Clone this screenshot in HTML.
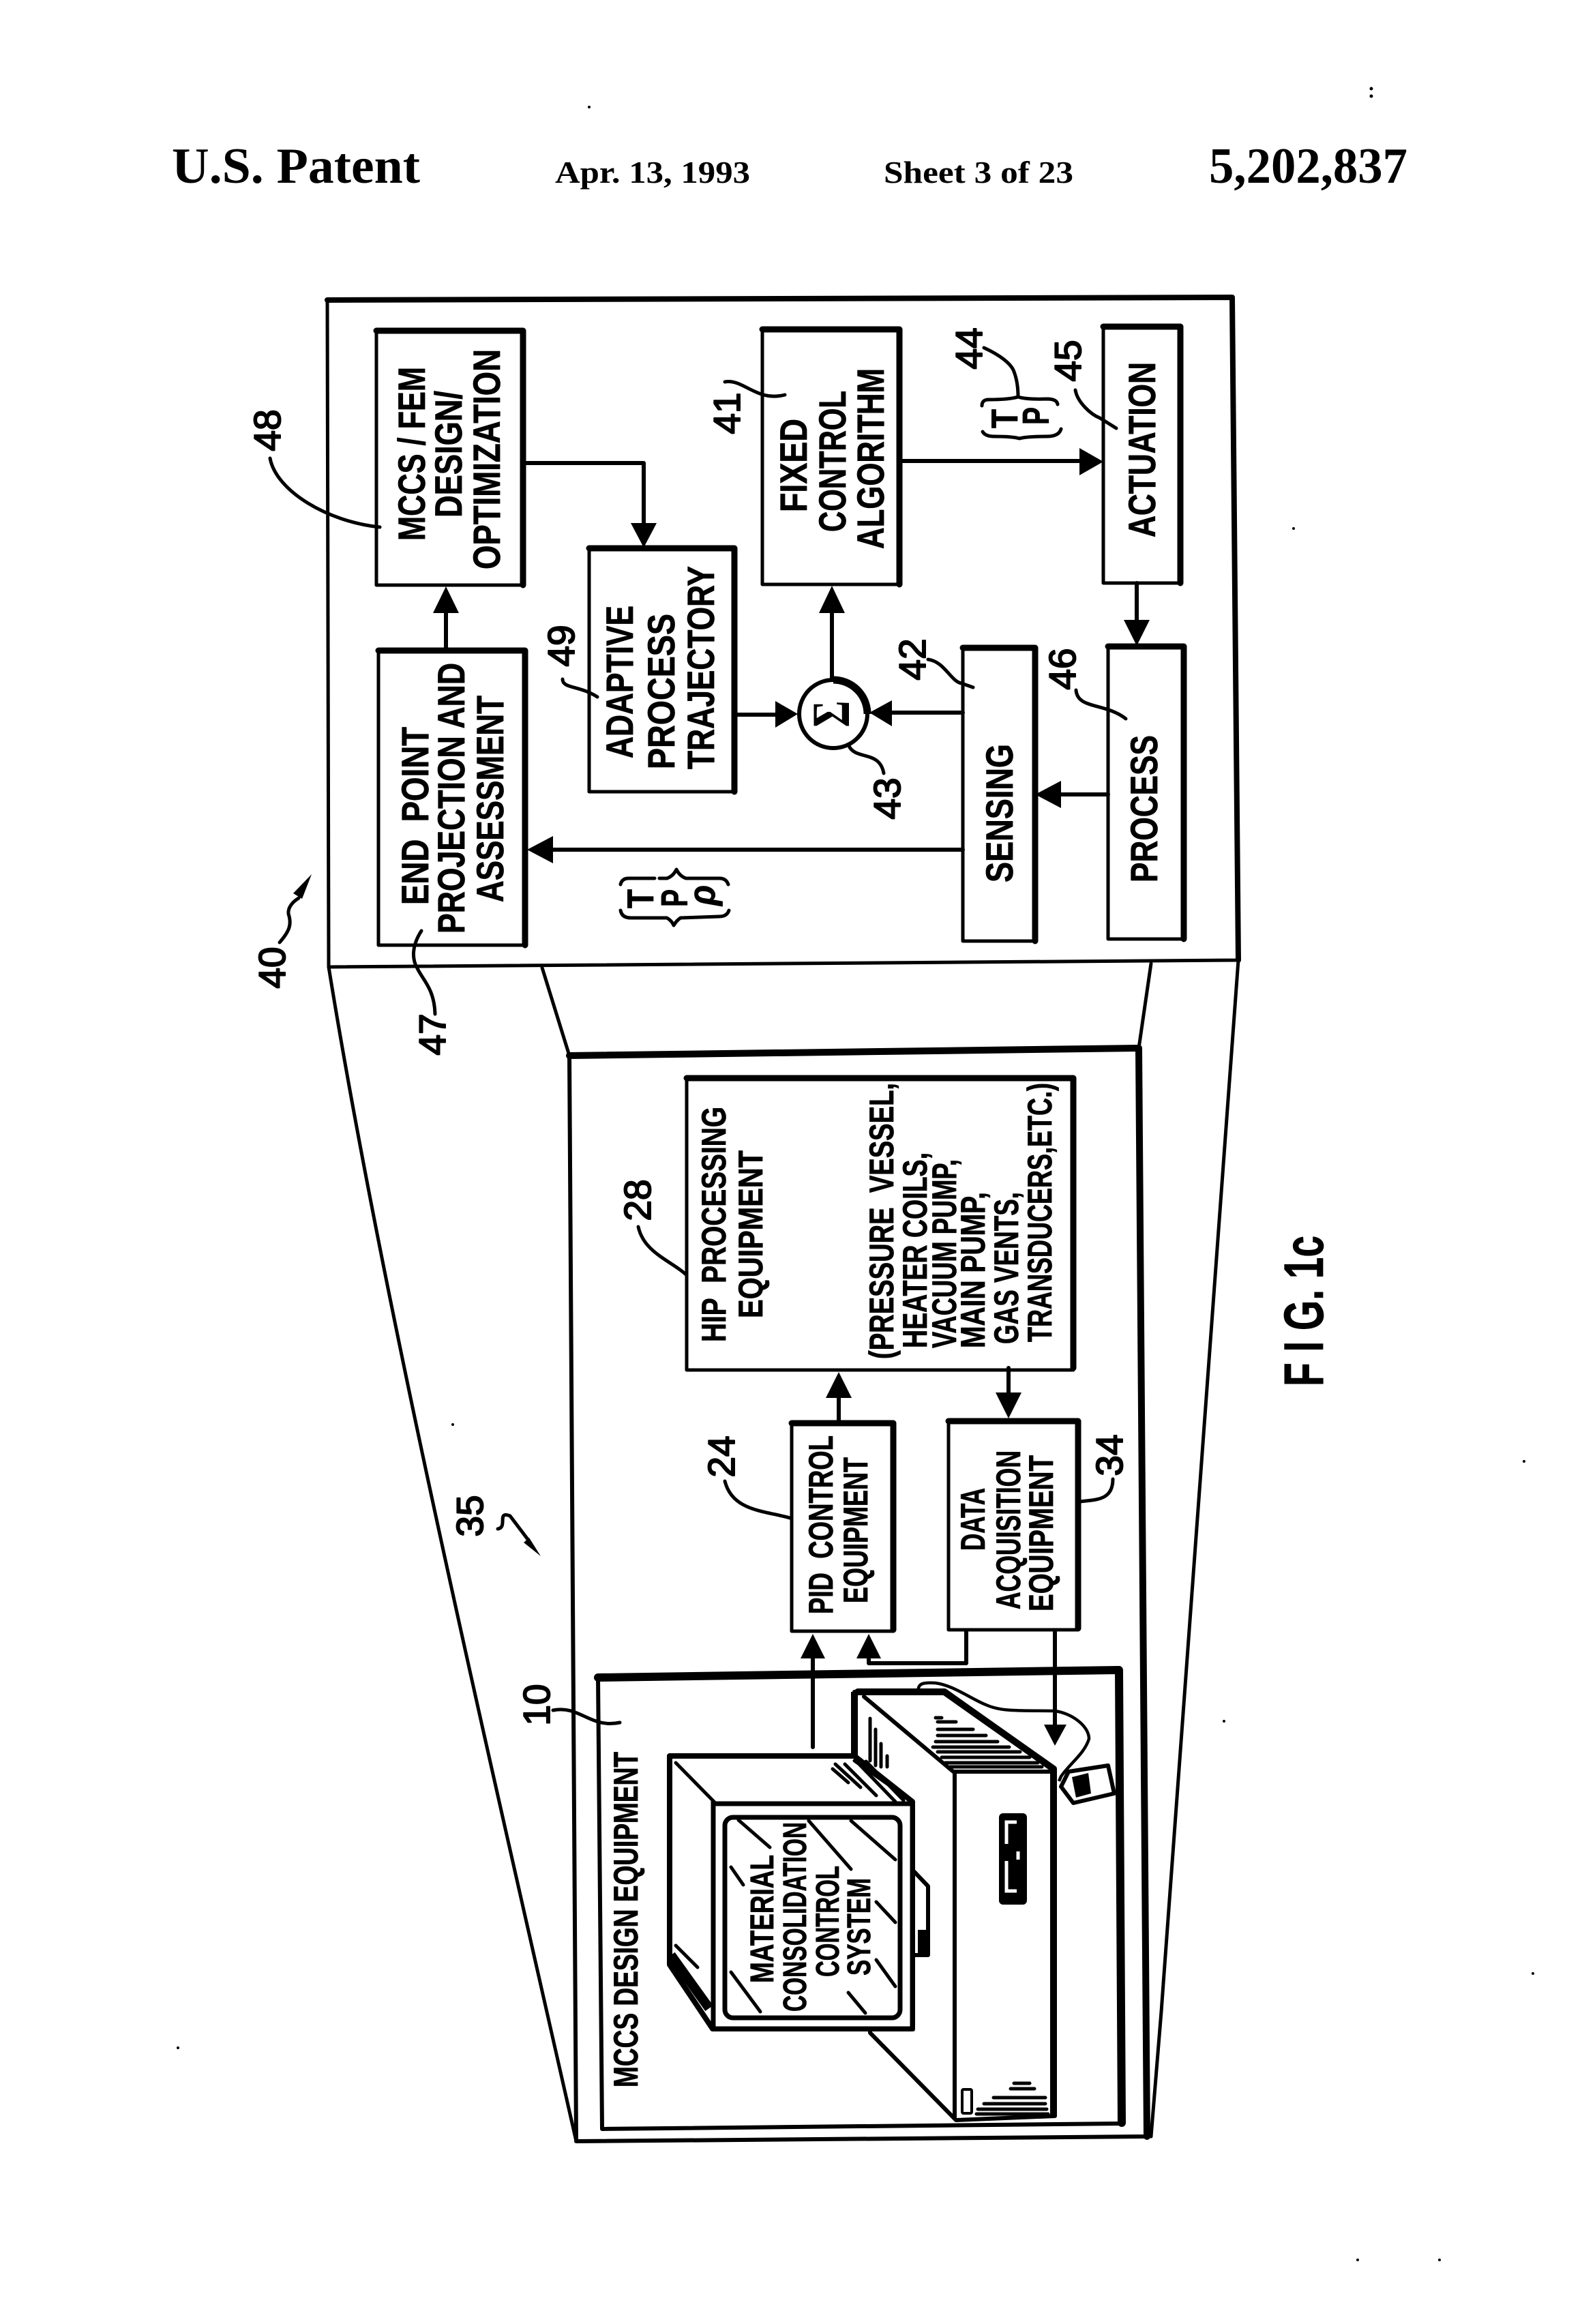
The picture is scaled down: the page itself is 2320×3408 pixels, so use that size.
<!DOCTYPE html>
<html><head><meta charset="utf-8"><style>
html,body{margin:0;padding:0;background:#fff}
svg{display:block}
.s{font-family:"Liberation Sans",sans-serif;font-weight:700;fill:#000;stroke:#000;stroke-width:.8;stroke-linejoin:round}
.h{font-family:"Liberation Serif",serif;font-weight:700;fill:#000}
.n{font-family:"Liberation Sans",sans-serif;font-weight:400;fill:#000;stroke:#000;stroke-width:2;stroke-linejoin:round}
.l{fill:none;stroke:#000;stroke-width:5;stroke-linejoin:round;stroke-linecap:round}
.b{fill:#fff;stroke:#000;stroke-width:5;stroke-linejoin:round}
.k{fill:none;stroke:#000;stroke-width:9;stroke-linejoin:round;stroke-linecap:round}
.t{stroke:#000;stroke-width:3;fill:none;stroke-linecap:round}
</style></head><body>
<svg xmlns="http://www.w3.org/2000/svg" width="2320" height="3408" viewBox="0 0 2320 3408">
<rect width="2320" height="3408" fill="#fff"/>
<text class="h" x="252" y="268" font-size="74" textLength="364" lengthAdjust="spacingAndGlyphs">U.S. Patent</text>
<text class="h" x="814" y="268" font-size="46" textLength="286" lengthAdjust="spacingAndGlyphs">Apr. 13, 1993</text>
<text class="h" x="1296" y="268" font-size="46" textLength="278" lengthAdjust="spacingAndGlyphs">Sheet 3 of 23</text>
<text class="h" x="1773" y="268" font-size="74" textLength="291" lengthAdjust="spacingAndGlyphs">5,202,837</text>

<!-- frames -->
<path class="l" style="stroke-width:5" d="M480 440 L1807 436 L1816 1408 L482 1418 Z"/>
<path class="k" style="stroke-width:8" d="M480 440 L1807 436 L1816 1408"/>
<path class="l" d="M482 1418 C560 1900 700 2500 845 3140 L1688 3133 L1703 2950 L1816 1408"/>
<path class="l" d="M795 1419 L835 1548"/>
<path class="l" d="M1688 1413 L1670 1537"/>
<path class="l" style="stroke-width:6" d="M835 1548 L1670 1537 L1682 3133 L845 3140 Z"/>
<path class="k" style="stroke-width:10" d="M835 1548 L1670 1537 L1682 3133"/>
<path class="l" style="stroke-width:6" d="M877 2460 L1641 2449 L1646 3114 L883 3122 Z"/>
<path class="k" style="stroke-width:12" d="M877 2460 L1641 2449 L1645 3113"/>

<!-- top boxes -->
<rect class="b" x="552" y="484" width="216" height="374"/>
<path class="k" d="M552 485 H767 V858"/>
<rect class="b" x="555" y="953" width="216" height="433"/>
<path class="k" d="M555 954 H770 V1386"/>
<rect class="b" x="864" y="803" width="213" height="358"/>
<path class="k" d="M864 804 H1077 V1161"/>
<rect class="b" x="1118" y="482" width="201" height="375"/>
<path class="k" d="M1118 483 H1319 V857"/>
<rect class="b" x="1618" y="478" width="113" height="377"/>
<path class="k" d="M1618 479 H1731 V855"/>
<rect class="b" x="1625" y="947" width="111" height="430"/>
<path class="k" d="M1625 948 H1736 V1377"/>
<rect class="b" x="1412" y="949" width="106" height="431"/>
<path class="k" d="M1412 950 H1518 V1380"/>
<circle cx="1222" cy="1047" r="50" fill="#fff" stroke="#000" stroke-width="6"/>
<path d="M1222 997 A50 50 0 0 1 1272 1047" fill="none" stroke="#000" stroke-width="11"/>
<text class="h" transform="translate(1245,1047) rotate(-90)" font-size="78" text-anchor="middle" textLength="39" lengthAdjust="spacingAndGlyphs">Σ</text>

<!-- arrows top -->
<path class="l" style="stroke-width:6" d="M654 952 V890 M767 679 H944 V770 M1077 1048 H1140 M1412 1045 H1305 M1220 996 V890 M1319 676 H1585 M1667 855 V915 M1625 1165 H1550 M1412 1246 H805"/>
<g fill="#000">
<path d="M654 860 L635 899 H673 Z"/>
<path d="M944 803 L925 767 H963 Z"/>
<path d="M1170 1047 L1137 1028 V1067 Z"/>
<path d="M1275 1045 L1308 1027 V1065 Z"/>
<path d="M1220 859 L1201 899 H1239 Z"/>
<path d="M1618 677 L1583 657 V697 Z"/>
<path d="M1667 947 L1648 909 H1686 Z"/>
<path d="M1518 1165 L1556 1145 V1185 Z"/>
<path d="M773 1246 L811 1226 V1266 Z"/>
</g>

<g class="s" font-size="56">
<text transform="translate(623,793) rotate(-90)" textLength="255" lengthAdjust="spacingAndGlyphs">MCCS / FEM</text>
<text transform="translate(677,759) rotate(-90)" textLength="186" lengthAdjust="spacingAndGlyphs">DESIGN/</text>
<text transform="translate(733,835) rotate(-90)" textLength="323" lengthAdjust="spacingAndGlyphs">OPTIMIZATION</text>
<text transform="translate(628,1327) rotate(-90)" textLength="261" lengthAdjust="spacingAndGlyphs">END&#160;&#160;POINT</text>
<text transform="translate(681,1369) rotate(-90)" textLength="397" lengthAdjust="spacingAndGlyphs">PROJECTION AND</text>
<text transform="translate(738,1323) rotate(-90)" textLength="303" lengthAdjust="spacingAndGlyphs">ASSESSMENT</text>
<text transform="translate(928,1112) rotate(-90)" textLength="224" lengthAdjust="spacingAndGlyphs">ADAPTIVE</text>
<text transform="translate(989,1128) rotate(-90)" textLength="228" lengthAdjust="spacingAndGlyphs">PROCESS</text>
<text transform="translate(1047,1128) rotate(-90)" textLength="298" lengthAdjust="spacingAndGlyphs">TRAJECTORY</text>
<text transform="translate(1183,751) rotate(-90)" textLength="137" lengthAdjust="spacingAndGlyphs">FIXED</text>
<text transform="translate(1240,780) rotate(-90)" textLength="207" lengthAdjust="spacingAndGlyphs">CONTROL</text>
<text transform="translate(1296,805) rotate(-90)" textLength="265" lengthAdjust="spacingAndGlyphs">ALGORITHM</text>
<text transform="translate(1694,788) rotate(-90)" textLength="257" lengthAdjust="spacingAndGlyphs">ACTUATION</text>
<text transform="translate(1485,1294) rotate(-90)" textLength="203" lengthAdjust="spacingAndGlyphs">SENSING</text>
<text transform="translate(1697,1294) rotate(-90)" textLength="216" lengthAdjust="spacingAndGlyphs">PROCESS</text>
</g>

<!-- T P braces -->
<g class="s" font-size="55">
<text transform="translate(1492,614) rotate(-90)" text-anchor="middle" textLength="28" lengthAdjust="spacingAndGlyphs">T</text>
<text transform="translate(1538,610) rotate(-90)" text-anchor="middle" textLength="26" lengthAdjust="spacingAndGlyphs">P</text>
<text transform="translate(958,1318) rotate(-90)" text-anchor="middle" textLength="28" lengthAdjust="spacingAndGlyphs">T</text>
<text transform="translate(1008,1317) rotate(-90)" text-anchor="middle" textLength="26" lengthAdjust="spacingAndGlyphs">P</text>
<text transform="translate(1048,1313) rotate(-90)" text-anchor="middle" font-style="italic" textLength="30" lengthAdjust="spacingAndGlyphs">ρ</text>
</g>
<g class="l" style="stroke-width:5">
<path d="M1440 595 Q1440 586 1450 586 Q1480 586 1493 582 Q1505 586 1535 585 Q1550 585 1551 593"/>
<path d="M1441 633 Q1445 640 1458 640 Q1485 640 1495 643 Q1505 640 1535 640 Q1553 640 1556 629"/>
<path d="M910 1297 Q912 1288 922 1288 H960 M967 1288 H978 Q987 1285 992 1275 Q997 1285 1006 1288 H1055 Q1065 1288 1068 1297"/>
<path d="M910 1335 Q912 1346 925 1346 H978 Q985 1350 988 1357 Q992 1350 998 1346 L1055 1344 Q1066 1344 1069 1335"/>
</g>

<!-- number labels -->
<g class="n" font-size="55">
<text transform="translate(411,631) rotate(-90)" text-anchor="middle">48</text>
<text transform="translate(1085,606) rotate(-90)" text-anchor="middle">41</text>
<text transform="translate(1440,511) rotate(-90)" text-anchor="middle">44</text>
<text transform="translate(1585,529) rotate(-90)" text-anchor="middle">45</text>
<text transform="translate(842,947) rotate(-90)" text-anchor="middle">49</text>
<text transform="translate(1357,967) rotate(-90)" text-anchor="middle">42</text>
<text transform="translate(1320,1171) rotate(-90)" text-anchor="middle">43</text>
<text transform="translate(1577,981) rotate(-90)" text-anchor="middle">46</text>
<text transform="translate(418,1419) rotate(-90)" text-anchor="middle">40</text>
<text transform="translate(653,1517) rotate(-90)" text-anchor="middle">47</text>
<text transform="translate(954,1760) rotate(-90)" text-anchor="middle">28</text>
<text transform="translate(1077,2136) rotate(-90)" text-anchor="middle">24</text>
<text transform="translate(1646,2134) rotate(-90)" text-anchor="middle">34</text>
<text transform="translate(708,2223) rotate(-90)" text-anchor="middle">35</text>
<text transform="translate(806,2500) rotate(-90)" text-anchor="middle">10</text>
</g>

<!-- leaders -->
<g class="l" style="stroke-width:5">
<path d="M396 672 C405 720 480 765 557 773"/>
<path d="M1063 560 C1090 555 1110 590 1151 579"/>
<path d="M1443 510 C1465 520 1483 533 1487 545 C1492 558 1493 570 1493 582"/>
<path d="M1577 572 C1580 590 1600 608 1613 613 L1637 628"/>
<path d="M825 996 C825 1010 850 1005 876 1022"/>
<path d="M1361 967 C1385 970 1395 1000 1410 1002 L1427 1008"/>
<path d="M1245 1094 C1255 1115 1290 1100 1296 1134"/>
<path d="M1578 1012 C1580 1040 1620 1030 1651 1054"/>
<path d="M410 1382 C425 1365 428 1355 423 1340 C422 1330 430 1322 438 1317"/>
<path d="M618 1365 C605 1385 603 1405 612 1420 C620 1437 637 1450 638 1487"/>
<path d="M936 1799 C945 1840 990 1850 1012 1875"/>
<path d="M1063 2172 C1075 2220 1130 2215 1168 2229"/>
<path d="M1632 2169 C1632 2210 1590 2195 1565 2207"/>
<path d="M730 2242 C745 2240 728 2215 748 2223 L776 2260"/>
<path d="M811 2508 C850 2500 865 2535 909 2526"/>
</g>
<path d="M457 1282 L430 1310 L443 1318 Z" fill="#000"/>
<path d="M776 2255 L793 2282 L768 2262 Z" fill="#000"/>

<!-- mid boxes -->
<rect class="b" x="1007" y="1580" width="567" height="429"/>
<path class="k" d="M1007 1581 H1574 V2006"/>
<rect class="b" x="1161" y="2086" width="149" height="306"/>
<path class="k" d="M1161 2087 H1310 V2390"/>
<rect class="b" x="1391" y="2083" width="190" height="307"/>
<path class="k" d="M1391 2084 H1581 V2388"/>
<path class="l" style="stroke-width:6" d="M1230 2086 V2040 M1479 2006 V2050 M1192 2562 V2430 M1417 2391 V2439 H1274 V2430 M1547 2391 V2530"/>
<g fill="#000">
<path d="M1230 2012 L1211 2050 H1249 Z"/>
<path d="M1479 2080 L1460 2042 H1498 Z"/>
<path d="M1192 2396 L1174 2432 H1210 Z"/>
<path d="M1274 2396 L1256 2432 H1292 Z"/>
<path d="M1547 2560 L1531 2529 H1564 Z"/>
</g>
<g class="s" font-size="50">
<text transform="translate(1064,1968) rotate(-90)" textLength="345" lengthAdjust="spacingAndGlyphs">HIP&#160;&#160;PROCESSING</text>
<text transform="translate(1118,1933) rotate(-90)" textLength="246" lengthAdjust="spacingAndGlyphs">EQUIPMENT</text>
<text transform="translate(1310,1993) rotate(-90)" textLength="405" lengthAdjust="spacingAndGlyphs">(PRESSURE&#160;&#160;VESSEL,</text>
<text transform="translate(1359,1977) rotate(-90)" textLength="287" lengthAdjust="spacingAndGlyphs">HEATER COILS,</text>
<text transform="translate(1402,1977) rotate(-90)" textLength="277" lengthAdjust="spacingAndGlyphs">VACUUM PUMP,</text>
<text transform="translate(1444,1977) rotate(-90)" textLength="229" lengthAdjust="spacingAndGlyphs">MAIN PUMP,</text>
<text transform="translate(1493,1971) rotate(-90)" textLength="223" lengthAdjust="spacingAndGlyphs">GAS VENTS,</text>
<text transform="translate(1542,1968) rotate(-90)" textLength="380" lengthAdjust="spacingAndGlyphs">TRANSDUCERS,ETC.)</text>
<text transform="translate(1221,2367) rotate(-90)" textLength="262" lengthAdjust="spacingAndGlyphs">PID&#160;&#160;CONTROL</text>
<text transform="translate(1272,2351) rotate(-90)" textLength="214" lengthAdjust="spacingAndGlyphs">EQUIPMENT</text>
<text transform="translate(1444,2274) rotate(-90)" textLength="92" lengthAdjust="spacingAndGlyphs">DATA</text>
<text transform="translate(1496,2360) rotate(-90)" textLength="233" lengthAdjust="spacingAndGlyphs">ACQUISITION</text>
<text transform="translate(1544,2363) rotate(-90)" textLength="229" lengthAdjust="spacingAndGlyphs">EQUIPMENT</text>
<text transform="translate(935,3061) rotate(-90)" textLength="492" lengthAdjust="spacingAndGlyphs">MCCS DESIGN EQUIPMENT</text>
</g>

<!-- computer base -->
<path d="M1253 2481 H1382 L1545 2594 L1547 3103 L1402 3109 L1276 2981 L1253 2574 Z" fill="#fff" stroke="#000" stroke-width="6" stroke-linejoin="round"/>
<path class="l" style="stroke-width:6" d="M1267 2488 L1398 2598 H1545 M1400 2598 V3105"/>
<path class="k" style="stroke-width:10" d="M1258 2481 H1385 L1545 2594 V3100"/>
<path d="M1253 2481 V2575" stroke="#000" stroke-width="10"/>
<g class="t" style="stroke-width:5">
<path d="M1372 2519 H1381 M1375 2525 H1402 M1375 2536 H1427 M1375 2545 H1446 M1372 2554 H1463 M1368 2562 H1480 M1375 2569 H1496 M1381 2577 H1510 M1386 2585 H1522 M1393 2591 H1528"/>
<path d="M1487 3055 H1510 M1482 3063 H1517 M1457 3076 H1533 M1443 3085 H1533 M1434 3093 H1535 M1432 3100 H1537"/>
<path d="M1276 2520 V2582 M1284 2536 V2589 M1292 2557 V2591 M1301 2575 V2591"/>
</g>
<rect x="1465" y="2659" width="41" height="134" rx="6" fill="#000"/>
<path d="M1491 2672 H1476 V2704 M1476 2729 V2773 H1491 M1493 2715 V2727" fill="none" stroke="#fff" stroke-width="5"/>
<rect x="1411" y="3064" width="14" height="35" rx="2" fill="#fff" stroke="#000" stroke-width="4"/>

<!-- monitor -->
<path d="M1339 2743 L1361 2766 V2867 H1339 Z" fill="#fff" stroke="#000" stroke-width="6" stroke-linejoin="round"/>
<rect x="1346" y="2830" width="15" height="37" fill="#000"/>
<path d="M982 2575 L1253 2575 L1338 2642 V2975 H1045 L982 2881 Z" fill="#fff" stroke="#000" stroke-width="8" stroke-linejoin="round"/>
<path class="l" d="M991 2585 L1049 2644 M1253 2582 L1338 2642"/>
<rect x="1046" y="2645" width="292" height="330" fill="#fff" stroke="#000" stroke-width="7"/>
<rect x="1063" y="2665" width="257" height="294" rx="12" fill="#fff" stroke="#000" stroke-width="7"/>
<g class="t" style="stroke-width:5">
<path d="M1083 2669 L1129 2709 M1186 2670 L1248 2741 M1248 2670 L1313 2727 M1072 2738 L1090 2764 M1285 2789 L1313 2819 M1285 2874 L1313 2913 M1244 2922 L1269 2952 M1072 2892 L1115 2950"/>
<path d="M1221 2594 L1244 2614 M1225 2587 L1262 2621 M1239 2587 L1285 2633 M1258 2585 L1313 2642 M1270 2583 L1325 2640"/>
<path d="M991 2853 L1023 2885"/>
</g>
<path d="M984 2867 L1040 2945" stroke="#000" stroke-width="14" fill="none"/>
<g class="s" font-size="48">
<text transform="translate(1134,2908) rotate(-90)" textLength="188" lengthAdjust="spacingAndGlyphs">MATERIAL</text>
<text transform="translate(1182,2950) rotate(-90)" textLength="278" lengthAdjust="spacingAndGlyphs">CONSOLIDATION</text>
<text transform="translate(1230,2899) rotate(-90)" textLength="163" lengthAdjust="spacingAndGlyphs">CONTROL</text>
<text transform="translate(1276,2897) rotate(-90)" textLength="143" lengthAdjust="spacingAndGlyphs">SYSTEM</text>
</g>

<!-- cable + mouse -->
<path d="M1347 2481 C1345 2468 1355 2467 1372 2468 C1400 2472 1425 2492 1446 2500 C1470 2511 1500 2508 1547 2509 C1570 2512 1597 2530 1597 2550 C1590 2572 1570 2585 1556 2605 L1553 2612" fill="none" stroke="#000" stroke-width="4.5"/>
<path d="M1567 2598 L1625 2589 L1634 2630 L1574 2644 L1556 2620 Z" fill="#fff" stroke="#000" stroke-width="6" stroke-linejoin="round"/>
<path d="M1572 2606 L1596 2600 L1600 2630 L1578 2636 Z" fill="#000"/>

<text class="s" transform="translate(1940,2033) rotate(-90)" font-size="82" textLength="221" lengthAdjust="spacingAndGlyphs">F I G. 1c</text>

<g fill="#000">
<circle cx="2011" cy="130" r="2.5"/><circle cx="2011" cy="141" r="2.5"/>
<circle cx="864" cy="157" r="2"/><circle cx="1897" cy="775" r="2"/><circle cx="2235" cy="2143" r="2"/>
<circle cx="1795" cy="2524" r="2"/><circle cx="2248" cy="2894" r="2"/><circle cx="1991" cy="3314" r="2"/>
<circle cx="2111" cy="3314" r="2"/><circle cx="261" cy="3003" r="2"/><circle cx="664" cy="2089" r="2"/>
</g>
</svg>
</body></html>
